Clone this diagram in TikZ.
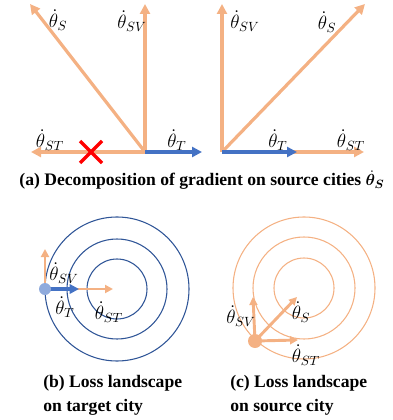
\documentclass[tikz,border=0pt]{standalone}
\usepackage{fontspec}
\setmainfont{Liberation Serif}
\usepackage{amsmath,bm}
\usetikzlibrary{arrows.meta}
\definecolor{org}{HTML}{F4B183}
\definecolor{blu}{HTML}{4472C4}
\definecolor{dblu}{HTML}{2F5597}
\definecolor{lblu}{HTML}{8FAADC}
\begin{document}
\begin{tikzpicture}[x=0.75pt,y=-0.75pt,
  vec/.style={line width=2.4pt,-{Triangle[length=7.5pt,width=7.5pt]}},
  ovec/.style={vec,draw=org},
  bvec/.style={vec,draw=blu},
  svec/.style={line width=1.8pt,-{Triangle[length=6pt,width=6pt]}},
  lab/.style={font=\fontsize{14.5}{16}\selectfont, inner sep=0pt},
  captxt/.style={font=\bfseries\fontsize{13.2}{18}\selectfont, align=left, inner sep=0pt},
  ring/.style={line width=0.8pt}]
\useasboundingbox (0,0) rectangle (392,420);

% ---- panel (a) left
\coordinate (o1) at (145,152);
\coordinate (s1) at (30,4);
\coordinate (sv1) at (145,4);
\coordinate (st1) at (31,152);
\coordinate (t1) at (202,152);
\draw[ovec] (o1) -- (s1);
\draw[ovec] (o1) -- (sv1);
\draw[ovec] (o1) -- (st1);
\draw[bvec] (o1) -- (t1);
\coordinate (x1) at (80,141);
\coordinate (x2) at (102,163);
\coordinate (x3) at (80,163);
\coordinate (x4) at (102,141);
\draw[red,line width=2.6pt] (x1) -- (x2) (x3) -- (x4);
\node[lab] (ls1) at (58,20) {$\dot{\theta}_{S}$};
\node[lab] (lsv1) at (132,21) {$\dot{\theta}_{SV}$};
\node[lab] (lst1) at (50,140) {$\dot{\theta}_{ST}$};
\node[lab] (lt1) at (177,140) {$\dot{\theta}_{T}$};

% ---- panel (a) right
\coordinate (o2) at (222,152);
\coordinate (sv2) at (222,4);
\coordinate (s2) at (365,4);
\coordinate (st2) at (364,152);
\coordinate (t2) at (297,152);
\draw[ovec] (o2) -- (sv2);
\draw[ovec] (o2) -- (s2);
\draw[ovec] (o2) -- (st2);
\draw[bvec] (o2) -- (t2);
\node[lab] (lsv2) at (245,21) {$\dot{\theta}_{SV}$};
\node[lab] (ls2) at (327,22) {$\dot{\theta}_{S}$};
\node[lab] (lt2) at (278,140) {$\dot{\theta}_{T}$};
\node[lab] (lst2) at (351,140) {$\dot{\theta}_{ST}$};

\node[captxt,anchor=center] (capa) at (202,180) {(a) Decomposition of gradient on source cities $\bm{\dot{\theta}_{S}}$};

% ---- panel (b)
\coordinate (cb) at (117,289);
\draw[dblu,ring] (cb) circle[radius=30];
\draw[dblu,ring] (cb) circle[radius=50];
\draw[dblu,ring] (cb) circle[radius=72];
\coordinate (db) at (45,289);
\coordinate (bsv) at (45,249);
\coordinate (bst) at (113,289);
\coordinate (bt) at (79,289);
\draw[svec,draw=org] (db) -- (bsv);
\draw[svec,draw=org] (db) -- (bst);
\draw[line width=2.4pt,blu,-{Triangle[length=7pt,width=7pt]}] (db) -- (bt);
\fill[lblu] (db) circle[radius=6];
\node[lab] (lbsv) at (64,273) {$\dot{\theta}_{SV}$};
\node[lab] (lbt) at (65,307) {$\dot{\theta}_{T}$};
\node[lab] (lbst) at (109,312) {$\dot{\theta}_{ST}$};
\node[captxt,anchor=west] (capb) at (43,395) {(b) Loss landscape\\on target city};

% ---- panel (c)
\coordinate (cc) at (304,288);
\draw[org,ring] (cc) circle[radius=30];
\draw[org,ring] (cc) circle[radius=51];
\draw[org,ring] (cc) circle[radius=71];
\coordinate (dc) at (255,341);
\coordinate (csv) at (253,297);
\coordinate (cs) at (297,297);
\coordinate (cst) at (298,340);
\draw[svec,line width=2.2pt,draw=org] (dc) -- (csv);
\draw[svec,line width=2.2pt,draw=org] (dc) -- (cs);
\draw[svec,line width=2.2pt,draw=org] (dc) -- (cst);
\fill[org] (dc) circle[radius=7];
\node[lab] (lcsv) at (241,316) {$\dot{\theta}_{SV}$};
\node[lab] (lcs) at (301,312) {$\dot{\theta}_{S}$};
\node[lab] (lcst) at (306,355) {$\dot{\theta}_{ST}$};
\node[captxt,anchor=west] (capc) at (230,395) {(c) Loss landscape\\on source city};
\end{tikzpicture}
\end{document}
